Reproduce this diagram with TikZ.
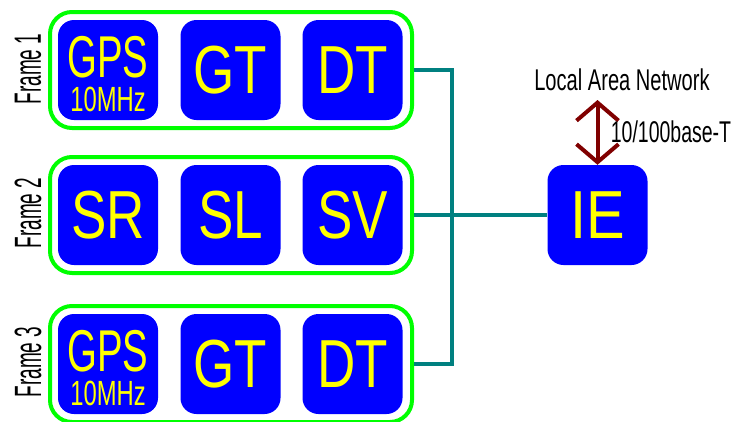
\documentclass[tikz,border=0pt]{standalone}
\usepackage{fontspec}
\setmainfont{Liberation Sans}
\usetikzlibrary{arrows.meta}
\definecolor{boxblue}{RGB}{0,0,255}
\definecolor{txtyellow}{RGB}{255,255,0}
\definecolor{framegreen}{RGB}{0,255,0}
\definecolor{busteal}{RGB}{0,128,128}
\definecolor{lanred}{RGB}{128,0,0}
\newcommand{\hsq}[2]{\scalebox{#1}[1]{#2}}
\begin{document}
\begin{tikzpicture}[x=1pt,y=-1pt,
  framebox/.style={draw=framegreen, line width=4pt, rounded corners=22pt,
    minimum width=362pt, minimum height=116pt, inner sep=0pt, fill=white},
  unitbox/.style={fill=boxblue, rounded corners=16pt, minimum width=100pt,
    minimum height=100pt, inner sep=0pt, text=txtyellow,
    font=\fontsize{68}{68}\selectfont},
  smalltxt/.style={text=txtyellow, inner sep=0pt, anchor=base},
  framelabel/.style={rotate=90, inner sep=0pt, font=\fontsize{38}{38}\selectfont},
  bus/.style={draw=busteal, line width=3.5pt},
  lan/.style={draw=lanred, line width=4pt,
    {Straight Barb[length=18pt,width=42pt,line width=4pt]}-{Straight Barb[length=18pt,width=42pt,line width=4pt]}},
  note/.style={inner sep=0pt, font=\fontsize{30}{30}\selectfont}
]
\useasboundingbox (0,0) rectangle (737,421);

% frames
\node[framebox] (f1) at (231,70) {};
\node[framebox] (f2) at (231,215) {};
\node[framebox] (f3) at (231,364) {};

% frame labels
\node[framelabel] (l1) at (28,69) {\hsq{0.5}{Frame 1}};
\node[framelabel] (l2) at (28,213) {\hsq{0.5}{Frame 2}};
\node[framelabel] (l3) at (28,362) {\hsq{0.5}{Frame 3}};

% frame 1
\node[unitbox] (gps1) at (108,70) {};
\node[smalltxt, font=\fontsize{59}{59}\selectfont] (gps1a) at (108,77) {\hsq{0.65}{GPS}};
\node[smalltxt, font=\fontsize{35}{35}\selectfont] (gps1b) at (108,111) {\hsq{0.68}{10MHz}};
\node[unitbox] (gt1) at (230.5,70) {\hsq{0.78}{GT}};
\node[unitbox] (dt1) at (352.5,70) {\hsq{0.78}{DT}};

% frame 2
\node[unitbox] (sr) at (108,215) {\hsq{0.78}{SR}};
\node[unitbox] (sl) at (230.5,215) {\hsq{0.78}{SL}};
\node[unitbox] (sv) at (352.5,215) {\hsq{0.78}{SV}};

% frame 3
\node[unitbox] (gps3) at (108,364) {};
\node[smalltxt, font=\fontsize{59}{59}\selectfont] (gps3a) at (108,371) {\hsq{0.65}{GPS}};
\node[smalltxt, font=\fontsize{35}{35}\selectfont] (gps3b) at (108,405) {\hsq{0.68}{10MHz}};
\node[unitbox] (gt3) at (230.5,364) {\hsq{0.78}{GT}};
\node[unitbox] (dt3) at (352.5,364) {\hsq{0.78}{DT}};

% IE
\node[unitbox] (ie) at (597.5,215) {\hsq{0.85}{IE}};

% bus
\draw[bus] (f1.east) -- ++(38,0) |- (f3.east);
\draw[bus] (f2.east) -- (ie.west);

% LAN
\node[note] (lantxt) at (622,80) {\hsq{0.67}{Local Area Network}};
\coordinate (lantop) at (597.5,100);
\draw[lan] (lantop) -- (ie.north);
\node[note] (base) at (671,132) {\hsq{0.65}{10/100base-T}};
\end{tikzpicture}
\end{document}
